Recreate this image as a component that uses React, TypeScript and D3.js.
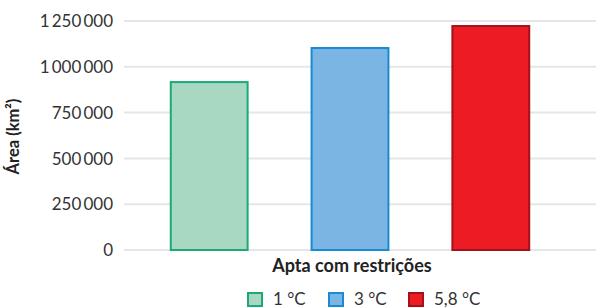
import React, { useEffect, useRef } from 'react';
import * as d3 from 'd3';

const category = 'Apta com restrições';
const seriesNames = ['1 °C', '3 °C', '5,8 °C'];
const seriesValues = [922000, 1108000, 1228000];
const fills = ['#a8d8c2', '#7ab5e3', '#ed1c24'];
const strokes = ['#1aa977', '#1a8bd3', '#a3121b'];
const yTicks = [0, 250000, 500000, 750000, 1000000, 1250000];

const W = 596;
const H = 308;

const App = () => {
  const svgRef = useRef<SVGSVGElement>(null);

  useEffect(() => {
    const svg = d3.select(svgRef.current);
    svg.selectAll('*').remove();

    const margin = { top: 21, right: 20, bottom: 58, left: 124 };
    const innerHeight = H - margin.top - margin.bottom;

    const x = d3.scaleBand<string>()
      .domain(seriesNames)
      .range([margin.left, W - margin.right])
      .paddingInner(0.44)
      .paddingOuter(0.325);

    const y = d3.scaleLinear()
      .domain([0, 1250000])
      .range([margin.top + innerHeight, margin.top]);

    const locale = d3.formatLocale({ decimal: ',', thousands: '\u2009', grouping: [3], currency: ['', ''] });
    const fmt = locale.format(',d');

    // gridlines
    svg.append('g')
      .selectAll('line')
      .data(yTicks)
      .enter().append('line')
      .attr('x1', margin.left)
      .attr('x2', W)
      .attr('y1', d => y(d))
      .attr('y2', d => y(d))
      .attr('stroke', '#e6e6e6')
      .attr('stroke-width', 2);

    // tick labels
    svg.append('g')
      .selectAll('text')
      .data(yTicks)
      .enter().append('text')
      .attr('x', 113)
      .attr('y', d => y(d))
      .attr('dy', '0.36em')
      .attr('text-anchor', 'end')
      .style('font-family', 'Lato')
      .style('font-size', '17px')
      .style('fill', '#333')
      .text(d => fmt(d));

    // bars
    svg.append('g')
      .selectAll('rect')
      .data(seriesValues)
      .enter().append('rect')
      .attr('x', (d, i) => x(seriesNames[i])! + 1)
      .attr('y', d => y(d) + 1)
      .attr('width', x.bandwidth() - 2)
      .attr('height', d => y(0) - y(d) - 1)
      .attr('fill', (d, i) => fills[i])
      .attr('stroke', (d, i) => strokes[i])
      .attr('stroke-width', 2);

    // axis titles
    svg.append('text')
      .attr('transform', `translate(19,${margin.top + innerHeight / 2 + 1}) rotate(-90)`)
      .attr('text-anchor', 'middle')
      .style('font-family', 'Lato')
      .style('font-weight', 'bold')
      .style('font-size', '16.5px')
      .style('fill', '#222')
      .text('Área (km²)');

    svg.append('text')
      .attr('x', 352)
      .attr('y', 272)
      .attr('text-anchor', 'middle')
      .style('font-family', 'Lato')
      .style('font-weight', 'bold')
      .style('font-size', '18px')
      .style('fill', '#222')
      .text(category);

    // legend
    const legendX = [247, 328, 408];
    const legend = svg.append('g');
    seriesNames.forEach((name, i) => {
      legend.append('rect')
        .attr('x', legendX[i] + 1)
        .attr('y', 293)
        .attr('width', 14)
        .attr('height', 13)
        .attr('fill', fills[i])
        .attr('stroke', strokes[i])
        .attr('stroke-width', 2);
      legend.append('text')
        .attr('x', legendX[i] + 26)
        .attr('y', 304.5)
        .style('font-family', 'Lato')
        .style('font-size', '17px')
        .style('fill', '#333')
        .text(name);
    });
  }, []);

  return (
    <svg ref={svgRef} width={W} height={H}
      style={{ position: 'absolute', left: 0, top: 0, background: '#fff' }} />
  );
};

export default App;
